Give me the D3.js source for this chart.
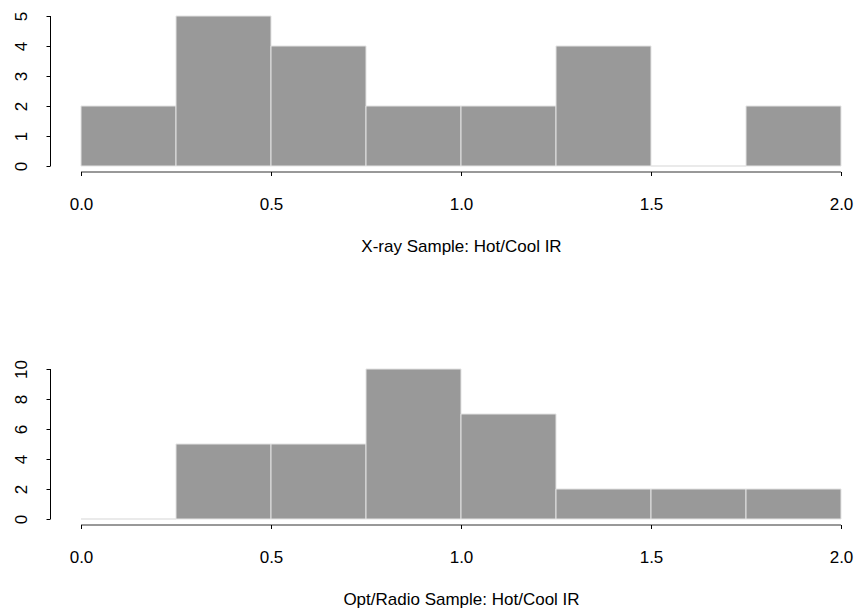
<!DOCTYPE html>
<html>
<head>
<meta charset="utf-8">
<script src="https://cdn.jsdelivr.net/npm/d3@7"></script>
<style>
  body { margin: 0; background: #fff; }
  svg text { font-family: "Liberation Sans", Arial, Helvetica, sans-serif; font-size: 17px; fill: #000; }
</style>
</head>
<body>
<svg id="chart" width="855" height="608"></svg>
<script>
// histogram bins (Hot/Cool IR ratio)
const binEdges = [0, 0.25, 0.5, 0.75, 1.0, 1.25, 1.5, 1.75, 2.0];
const xrayCounts = [2, 5, 4, 2, 2, 4, 0, 2];
const optRadioCounts = [0, 5, 5, 10, 7, 2, 2, 2];
const xTicks = [0, 0.5, 1.0, 1.5, 2.0];
const xrayYTicks = [0, 1, 2, 3, 4, 5];
const optRadioYTicks = [0, 2, 4, 6, 8, 10];
const titles = ["X-ray Sample: Hot/Cool IR", "Opt/Radio Sample: Hot/Cool IR"];

const svg = d3.select("#chart");

// x is shared by both panels (R pads the range by 4%, so 0 -> 81px, 2 -> 841px)
const x = d3.scaleLinear().domain([0, 2]).range([81, 841]);

const panels = [
  { counts: xrayCounts, yTicks: xrayYTicks, top: 10, bottom: 172, title: titles[0] },
  { counts: optRadioCounts, yTicks: optRadioYTicks, top: 363, bottom: 525, title: titles[1] }
];

panels.forEach(function (p) {
  const ymax = d3.max(p.yTicks);
  const y = d3.scaleLinear()
    .domain([-0.04 * ymax, 1.04 * ymax])
    .range([p.bottom, p.top]);

  const g = svg.append("g");

  const bins = p.counts.map((c, i) => ({ x0: binEdges[i], x1: binEdges[i + 1], n: c }));

  // paths rather than rects so empty bins still leave their outline on the baseline
  g.selectAll("path.bar")
    .data(bins)
    .enter()
    .append("path")
    .attr("class", "bar")
    .attr("d", d => `M${x(d.x0)},${y(0)}V${y(d.n)}H${x(d.x1)}V${y(0)}Z`)
    .attr("fill", "#999999")
    .attr("stroke", "#e3e3e3")
    .attr("stroke-width", 1);

  // x axis, drawn at bottom of the plot region
  const xAxis = g.append("g")
    .attr("transform", `translate(0,${p.bottom})`)
    .call(d3.axisBottom(x).tickValues(xTicks).tickFormat(d3.format(".1f")).tickSizeInner(4).tickSizeOuter(0));
  xAxis.select(".domain").attr("stroke", "#333").attr("d", `M${x(0)},0H${x(2)}`);
  xAxis.selectAll("text").attr("font-size", null).attr("font-family", null).attr("dy", null)
    .attr("y", 38);

  // y axis, left edge of the plot region
  const yAxis = g.append("g")
    .attr("transform", "translate(50.5,0)")
    .call(d3.axisLeft(y).tickValues(p.yTicks).tickFormat(d3.format("d")).tickSizeInner(4).tickSizeOuter(0));
  yAxis.selectAll(".tick text")
    .attr("font-size", null).attr("font-family", null)
    .attr("x", null).attr("dy", null)
    .attr("text-anchor", "middle")
    .attr("transform", "translate(-24,0) rotate(-90)");
  // R draws the axis line only from the first tick to the last
  yAxis.select(".domain").attr("stroke", "#000").attr("d", `M0,${y(0)}V${y(ymax)}`);

  g.append("text")
    .attr("x", (x(0) + x(2)) / 2 + 0.5)
    .attr("y", p.bottom + 80)
    .attr("text-anchor", "middle")
    .text(p.title);
});
</script>
</body>
</html>
